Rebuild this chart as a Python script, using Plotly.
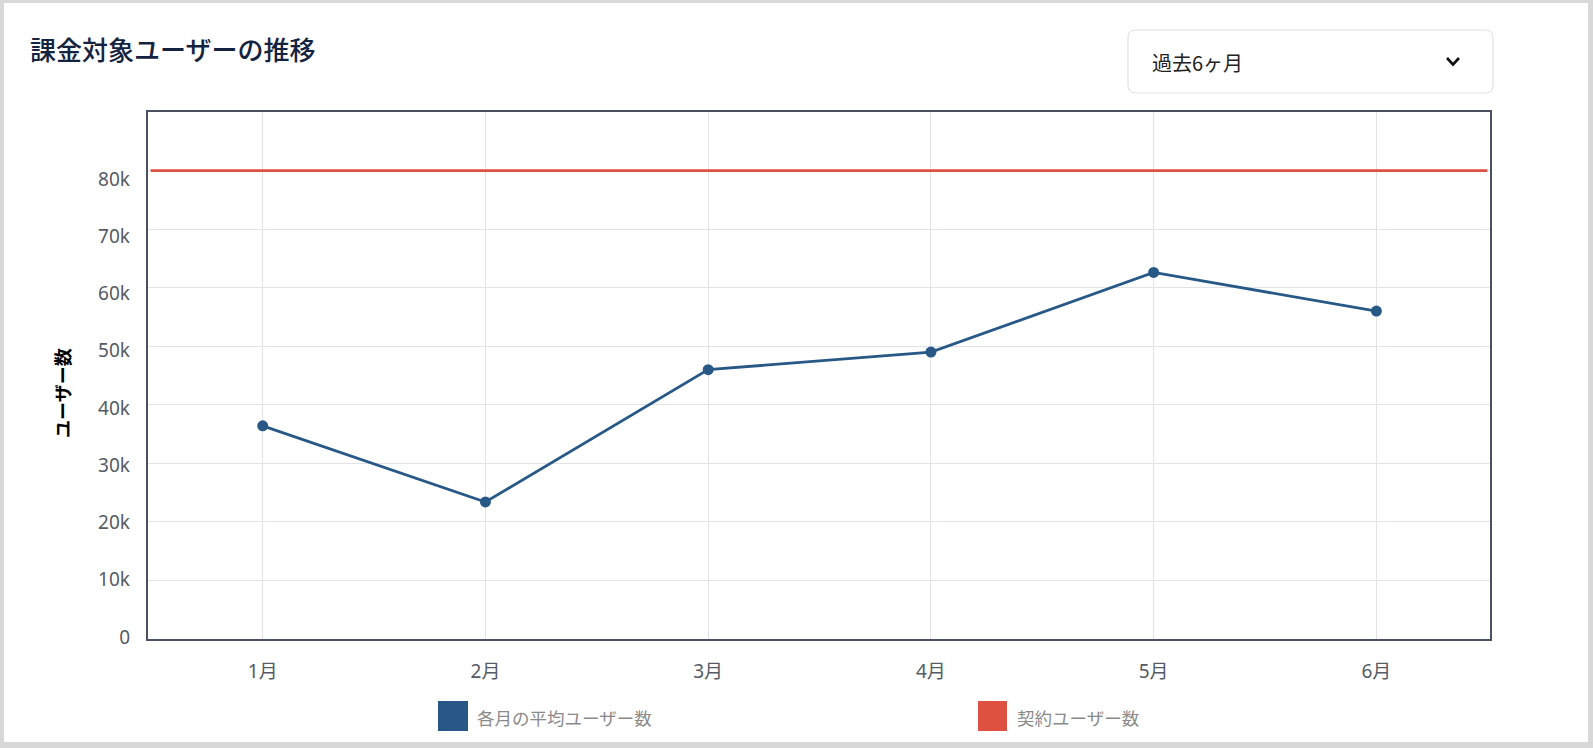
import plotly.graph_objects as go

# data
months = ['1月', '2月', '3月', '4月', '5月', '6月']
avg_users = [36400, 23400, 46000, 49000, 62600, 56000]
contract_users = [80000]
y_ticks = [0, 10000, 20000, 30000, 40000, 50000, 60000, 70000, 80000]
y_tick_labels = ['0', '10k', '20k', '30k', '40k', '50k', '60k', '70k', '80k']

BLUE = '#285986'
RED = '#de5041'
JP = 'Noto Sans CJK JP'
TICK_FONT = 'Noto Sans, Noto Sans CJK JP'

W, H = 1593, 748
L, R, T, B = 148, 1490, 112, 639
PW, PH = R - L, B - T


def px(x, y):
    # pixel position on the page -> paper coordinates
    return (x - L) / PW, (B - y) / PH


def rounded_rect(x0, y0, x1, y1, r):
    a = px(x0 + r, y0); b = px(x1 - r, y0); c = px(x1, y0); d = px(x1, y0 + r)
    e = px(x1, y1 - r); f = px(x1, y1); g = px(x1 - r, y1); h = px(x0 + r, y1)
    i = px(x0, y1); j = px(x0, y1 - r); k = px(x0, y0 + r); m = px(x0, y0)
    s = lambda p: f'{p[0]:.5f},{p[1]:.5f}'
    return (f'M {s(a)} L {s(b)} Q {s(c)} {s(d)} L {s(e)} Q {s(f)} {s(g)} '
            f'L {s(h)} Q {s(i)} {s(j)} L {s(k)} Q {s(m)} {s(a)} Z')


fig = go.Figure()

fig.add_trace(go.Scatter(
    x=months, y=avg_users, mode='lines+markers', name='各月の平均ユーザー数',
    line=dict(color=BLUE, width=2.8),
    marker=dict(color=BLUE, size=11),
    showlegend=False,
))

shapes = []
# card background
cx0, cy0 = px(4, 3)
cx1, cy1 = px(1588, 742)
shapes.append(dict(type='rect', xref='paper', yref='paper', x0=cx0, y0=cy0, x1=cx1, y1=cy1,
                   fillcolor='white', line=dict(width=0), layer='below'))
# contract line
shapes.append(dict(type='line', xref='x domain', yref='y', x0=0.002, x1=0.998,
                   y0=contract_users[0], y1=contract_users[0],
                   line=dict(color=RED, width=2.8)))
# dropdown box
shapes.append(dict(type='path', xref='paper', yref='paper',
                   path=rounded_rect(1128, 30, 1493, 93, 8),
                   line=dict(color='#e2e2e7', width=1.2), fillcolor='white'))
p1, p2, p3 = px(1447, 58), px(1453, 64.5), px(1459, 58)
shapes.append(dict(type='path', xref='paper', yref='paper',
                   path=f'M {p1[0]},{p1[1]} L {p2[0]},{p2[1]} L {p3[0]},{p3[1]}',
                   line=dict(color='#111111', width=2.6)))
# legend swatches
for (x0, x1), col in [((438, 468), BLUE), ((978, 1007), RED)]:
    a = px(x0, 701); b = px(x1, 731)
    shapes.append(dict(type='rect', xref='paper', yref='paper', x0=a[0], y0=b[1], x1=b[0], y1=a[1],
                       fillcolor=col, line=dict(width=0)))

annotations = []
tx, ty = px(28, 49)
annotations.append(dict(text='課金対象ユーザーの推移', xref='paper', yref='paper', x=tx, y=ty,
                        xanchor='left', yanchor='middle', showarrow=False,
                        font=dict(family=JP, size=26, color='#14233f', weight=500)))
dx, dy = px(1150, 63)
annotations.append(dict(text='過去6ヶ月', xref='paper', yref='paper', x=dx, y=dy,
                        xanchor='left', yanchor='middle', showarrow=False,
                        font=dict(family=JP, size=20, color='#222222')))
ax, ay = px(62, 393)
annotations.append(dict(text='ユーザー数', xref='paper', yref='paper', x=ax, y=ay, textangle=-90,
                        xanchor='center', yanchor='middle', showarrow=False,
                        font=dict(family=JP, size=18, color='#000000', weight='bold')))
for x0, label in [(475, '各月の平均ユーザー数'), (1015, '契約ユーザー数')]:
    lx, ly = px(x0, 717)
    annotations.append(dict(text=label, xref='paper', yref='paper', x=lx, y=ly,
                            xanchor='left', yanchor='middle', showarrow=False,
                            font=dict(family=JP, size=17.5, color='#8a8a8a')))

fig.update_layout(
    width=W, height=H,
    margin=dict(l=L, r=W - R, t=T, b=H - B, pad=0),
    paper_bgcolor='#d8d8d8',
    plot_bgcolor='white',
    showlegend=False,
    shapes=shapes,
    annotations=annotations,
    xaxis=dict(
        type='category', range=[-0.515, 5.51],
        showgrid=True, gridcolor='#e2e2e8', gridwidth=1.3,
        showline=True, linecolor='#4a5261', linewidth=1.5, mirror=True,
        ticks='', ticklabelstandoff=14,
        tickfont=dict(family=TICK_FONT, size=19, color='#555b65'),
        zeroline=False,
    ),
    yaxis=dict(
        range=[0, 90000], tickvals=y_ticks, showticklabels=False,
        showgrid=True, gridcolor='#e2e2e8', gridwidth=1.3,
        showline=True, linecolor='#4a5261', linewidth=1.5, mirror=True,
        ticks='', zeroline=False,
    ),
    # tick labels sit on a slightly different scale than the gridlines in the reference
    yaxis2=dict(
        overlaying='y', side='left', range=[-350, 91700],
        tickvals=y_ticks, ticktext=y_tick_labels, showgrid=False, showline=False,
        ticks='', ticklabelstandoff=17, zeroline=False,
        tickfont=dict(family=TICK_FONT, size=19, color='#555b65'),
    ),
)

# invisible helper so the label axis is drawn
fig.add_trace(go.Scatter(x=[months[0]], y=[y_ticks[0]], yaxis='y2', mode='markers',
                         marker=dict(opacity=0), hoverinfo='skip', showlegend=False))

fig.write_html('out.html', config={'displayModeBar': False},
               post_script="document.body.style.margin='0';document.body.style.overflow='hidden';")
